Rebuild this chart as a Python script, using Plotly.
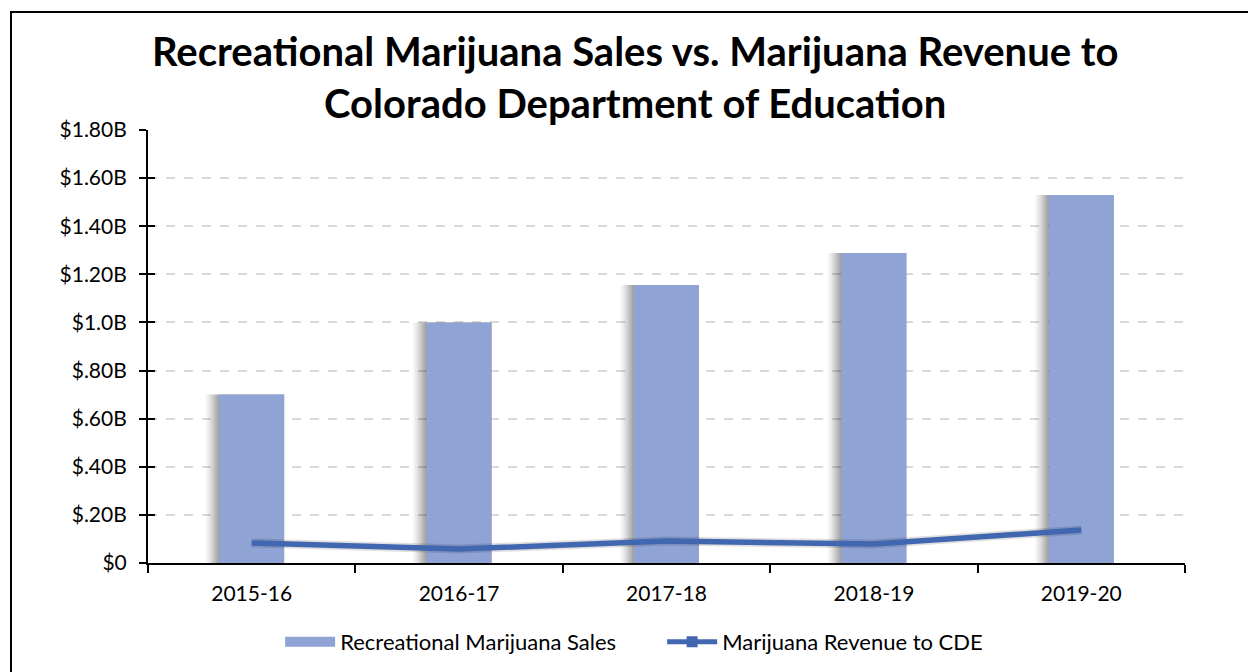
import plotly.graph_objects as go

years = ["2015-16", "2016-17", "2017-18", "2018-19", "2019-20"]
sales = [0.70, 1.00, 1.156, 1.289, 1.530]          # billions $
cde_revenue = [0.083, 0.058, 0.091, 0.079, 0.137]  # billions $

tick_vals = [0, 0.2, 0.4, 0.6, 0.8, 1.0, 1.2, 1.4, 1.6, 1.8]
tick_text = ["$0", "$.20B", "$.40B", "$.60B", "$.80B", "$1.0B", "$1.20B", "$1.40B", "$1.60B", "$1.80B"]

BAR = "#8FA4D5"
LINE = "#4067B0"
FONT = "Lato"

fig = go.Figure()

bar_w = 0.313
px = 1 / 207.4
# soft shadow layers behind bars
for extra, alpha in [(14, 0.03), (12, 0.04), (10, 0.05), (8, 0.06), (6, 0.07), (4, 0.08), (2, 0.08)]:
    fig.add_trace(go.Bar(
        x=years, y=sales, width=bar_w + extra * px, offset=-bar_w / 2 - extra * px,
        marker=dict(color=f"rgba(0,0,0,{alpha})", line=dict(width=0)),
        showlegend=False, hoverinfo="skip"))

fig.add_trace(go.Bar(
    x=years, y=sales, width=bar_w, offset=-bar_w / 2,
    marker=dict(color=BAR, line=dict(width=0)),
    showlegend=False, name="Recreational Marijuana Sales"))

fig.add_trace(go.Scatter(
    x=years, y=cde_revenue, mode="lines",
    line=dict(color="rgba(0,0,0,0.12)", width=9),
    showlegend=False, hoverinfo="skip"))

fig.add_trace(go.Scatter(
    x=years, y=cde_revenue, mode="lines",
    line=dict(color=LINE, width=5.5),
    showlegend=False, name="Marijuana Revenue to CDE"))

# legend entries
fig.add_trace(go.Scatter(
    x=[years[0]], y=[None], mode="lines",
    line=dict(color=BAR, width=15),
    name="Recreational Marijuana Sales"))
fig.add_trace(go.Scatter(
    x=[years[0]], y=[None], mode="lines+markers",
    line=dict(color=LINE, width=5),
    marker=dict(symbol="square", size=11, color=LINE),
    name="Marijuana Revenue to CDE"))

fig.update_layout(
    width=1248, height=672,
    paper_bgcolor="white", plot_bgcolor="white",
    barmode="overlay",
    margin=dict(l=148, r=63, t=130, b=109),
    title=dict(
        text="Recreational Marijuana Sales vs. Marijuana Revenue to<br>Colorado Department of Education",
        x=0.509, xanchor="center", y=0.902, yanchor="middle",
        font=dict(family=FONT, size=40, color="black", weight="bold")),
    font=dict(family=FONT, size=21, color="black"),
    legend=dict(orientation="h", x=0.4958, xanchor="center", yref="container",
                y=1 - 642 / 672, yanchor="middle",
                font=dict(size=22), itemwidth=50, traceorder="normal",
                entrywidth=317, entrywidthmode="pixels"),
    xaxis=dict(showline=True, linecolor="black", linewidth=2,
               ticks="outside", ticklen=8, tickcolor="black", tickwidth=2,
               tickson="boundaries", showgrid=False, range=[-0.5, 4.5],
               tickfont=dict(size=21), ticklabelstandoff=11, automargin=False),
    yaxis=dict(range=[0, 1.8], tickvals=tick_vals, ticktext=tick_text,
               showline=True, linecolor="black", linewidth=2,
               ticks="outside", ticklen=7, tickcolor="black", tickwidth=2,
               showgrid=True, gridcolor="#D9D9D9", griddash="dash", gridwidth=1.5,
               zeroline=False, tickfont=dict(size=21), ticklabelstandoff=8,
               automargin=False),
    yaxis2=dict(range=[0, 1.8], tickvals=tick_vals, overlaying="y", side="left",
                showticklabels=False, ticks="inside", ticklen=7, tickcolor="black",
                tickwidth=2, showgrid=False, zeroline=False, showline=False,
                automargin=False),
    shapes=[dict(type="rect", xref="paper", yref="paper",
                 x0=(11 - 148) / 1037, x1=1.08, y0=-0.3, y1=(563 - 12) / 433,
                 line=dict(color="black", width=2), layer="above")],
)
# dummy trace to activate yaxis2 ticks
fig.add_trace(go.Scatter(x=[years[0]], y=[None], yaxis="y2", showlegend=False, hoverinfo="skip"))

fig.write_html("out.html")
